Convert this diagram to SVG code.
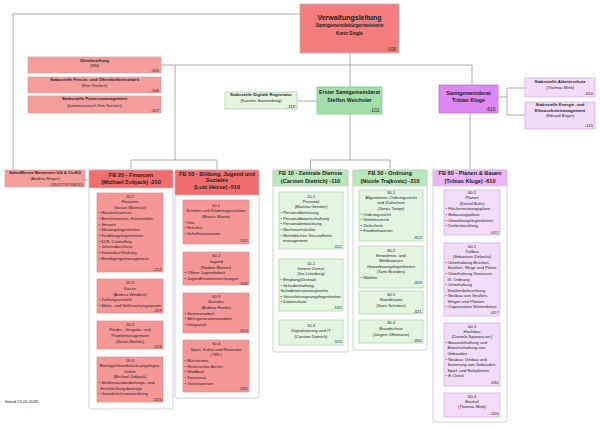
<svg xmlns="http://www.w3.org/2000/svg" width="600" height="429" viewBox="0 0 600 429">
<style>
text{font-family:"Liberation Sans",Arial,sans-serif;fill:#222}
.t{font-size:4.2px}
.b{font-weight:bold}
.m{text-anchor:middle}
.e{text-anchor:end}
.hd{font-size:5.6px;font-weight:bold;text-anchor:middle}
.con{fill:#fcfcfc;stroke:#c8c8c8;stroke-width:0.8}
.r1{fill:#f57c7c;stroke:#b8b8b8;stroke-width:0.8}
.rs{fill:#f59d9d;stroke:#c9a0a0;stroke-width:0.6}
.rh{fill:#f26d6d;stroke:#c8c8c8;stroke-width:0.6}
.ri{fill:#f79696;stroke:#d08a8a;stroke-width:0.6}
.g1{fill:#a2dfaa;stroke:#7fc08b;stroke-width:0.7}
.gs{fill:#e5f3e1;stroke:#9cc99c;stroke-width:0.6}
.gh{fill:#b9e6bb;stroke:#c8c8c8;stroke-width:0.6}
.gi{fill:#e3f4e0;stroke:#9ccc9c;stroke-width:0.6}
.p1{fill:#dd88f3;stroke:#b570c8;stroke-width:0.7}
.ps{fill:#f2dbf8;stroke:#c9a3d6;stroke-width:0.6}
.ph{fill:#ecb5f8;stroke:#c8c8c8;stroke-width:0.6}
.pi{fill:#f2dcf8;stroke:#c9a3d6;stroke-width:0.6}
#connectors path{fill:none;stroke:#999;stroke-width:0.8}
</style>

<g id="connectors">
<path d="M300,14 H13 V170"/>
<path d="M161,65 H472 V85"/>
<path d="M350,53 V87"/>
<path d="M175,65 V160 M131,160 H217 M131,160 V170 M217,160 V170"/>
<path d="M350,114 V160 M310.5,160 H390 M310.5,160 V170 M390,160 V170"/>
<path d="M297,101 H317"/>
<path d="M470,113 V170"/>
<path d="M498,97 H507 M507,88 V115 M507,88 H525 M507,115 H525"/>
<path d="M85,180 H89"/>
</g>

<g id="verwaltungsleitung">
<rect class="r1" x="300" y="4" width="99" height="49"/>
<text class="m b" x="349.5" y="19.5" font-size="7">Verwaltungsleitung</text>
<text class="m b" x="349.5" y="26.7" font-size="4.6">Samtgemeindebürgermeisterin</text>
<text class="m b" x="349.5" y="34.5" font-size="4.6">Karin Single</text>
<text class="e" x="396" y="50.5" font-size="4.6">-100</text>
</g>

<g id="gleichstellung">
<rect class="rs" x="28" y="57" width="133" height="16"/>
<text class="t b m" x="94.5" y="61.5">Gleichstellung</text>
<text class="t m" x="94.5" y="66.5">(NN)</text>
<text class="t e" x="159" y="72">-105</text>
</g>
<g id="presse">
<rect class="rs" x="28" y="77" width="133" height="16"/>
<text class="t b m" x="94.5" y="80.8">Stabsstelle Presse- und Öffentlichkeitsarbeit</text>
<text class="t m" x="94.5" y="87.2">(Kim Teichert)</text>
<text class="t e" x="159" y="92">-106</text>
</g>
<g id="prozess">
<rect class="rs" x="28" y="96" width="133" height="17"/>
<text class="t b m" x="94.5" y="99.8">Stabsstelle Prozessmanagement</text>
<text class="t m" x="94.5" y="106.5">(kommissarisch Kim Teichert)</text>
<text class="t e" x="159" y="111.5">-107</text>
</g>

<g id="digitale-registratur">
<rect class="gs" x="225" y="92" width="72" height="17"/>
<text class="t b m" x="261" y="95.8">Stabsstelle Digitale Registratur</text>
<text class="t m" x="261" y="101.5">(Karsten Sonnenberg)</text>
<text class="t e" x="295" y="108">-119</text>
</g>

<g id="erster">
<rect class="g1" x="317" y="87" width="65" height="27"/>
<text class="m b" x="349.5" y="94" font-size="5.3">Erster Samtgemeinderat</text>
<text class="m b" x="349.5" y="101.5" font-size="5.3">Steffen Weichsler</text>
<text class="e" x="379.5" y="112" font-size="5">-102</text>
</g>

<g id="kluge">
<rect class="p1" x="439" y="85" width="59" height="28"/>
<text class="m b" x="468.5" y="95" font-size="5.3">Samtgemeinderat</text>
<text class="m b" x="468.5" y="102" font-size="5.3">Tobias Kluge</text>
<text class="e" x="495.5" y="111" font-size="5">-610</text>
</g>

<g id="arbeitsschutz">
<rect class="ps" x="525" y="78" width="70" height="19"/>
<text class="t b m" x="560" y="83.2">Stabsstelle Arbeitsschutz</text>
<text class="t m" x="560" y="88.8">(Thomas Mink)</text>
<text class="t e" x="593" y="94.8">-616</text>
</g>
<g id="energie">
<rect class="ps" x="525" y="102" width="70" height="27"/>
<text class="t b m" x="560" y="105.8">Stabsstelle Energie- und</text>
<text class="t b m" x="560" y="111.5">Klimaschutzmanagement</text>
<text class="t m" x="560" y="117.2">(Eduard Bayer)</text>
<text class="t e" x="593" y="126.5">-115</text>
</g>

<g id="schulmensa">
<rect class="rs" x="5" y="170" width="80" height="17"/>
<text class="t b m" x="45" y="173.8">SchulMensa Meinersen UG &amp; Co.KG</text>
<text class="t m" x="45" y="179.5">(Andrea Meyer)</text>
<text class="t e" x="83" y="185.5">(05372/9718010)</text>
</g>

<g id="fb20">
<rect class="con" x="89" y="170" width="84" height="239" rx="1.5"/>
<rect class="rh" x="89" y="170" width="84" height="18"/>
<text class="hd" x="131" y="176.8">FB 20 - Finanzen</text>
<text class="hd" x="131" y="183.8">(Michael Zobjack) -210</text>
</g>
<g id="fb20-1">
<rect class="ri" x="97" y="193" width="66" height="79"/>
<text class="t m" x="130" y="198.2">20.1</text>
<text class="t m" x="130" y="203.2">Finanzen</text>
<text class="t m" x="130" y="208.8">(Susan Wormsie)</text>
<text class="t" x="98.5" y="214.2">• Haushaltswesen</text>
<text class="t" x="98.5" y="219.8">• Berichtswesen, Kennzahlen</text>
<text class="t" x="98.5" y="225.5">• Steuern</text>
<text class="t" x="98.5" y="231.2">• Mietangelegenheiten</text>
<text class="t" x="98.5" y="236.8">• Kreditangelegenheiten</text>
<text class="t" x="98.5" y="242.5">• KLR, Controlling</text>
<text class="t" x="98.5" y="248.2">• Jahresabschluss</text>
<text class="t" x="98.5" y="253.8">• Finanzbuchhaltung</text>
<text class="t" x="98.5" y="259.5">• Beteiligungsmanagement</text>
<text class="t e" x="161.5" y="270.5">-212</text>
</g>
<g id="fb20-2">
<rect class="ri" x="97" y="279" width="66" height="34"/>
<text class="t m" x="130" y="284.2">20.2</text>
<text class="t m" x="130" y="289.5">Kasse</text>
<text class="t m" x="130" y="295.5">(Andrea Windrich)</text>
<text class="t" x="98.5" y="301.2">• Zahlungsverkehr</text>
<text class="t" x="98.5" y="306.5">• Mahn- und Vollstreckungswesen</text>
<text class="t e" x="161.5" y="311.5">-219</text>
</g>
<g id="fb20-3">
<rect class="ri" x="97" y="321" width="66" height="28"/>
<text class="t m" x="130" y="325.5">20.3</text>
<text class="t m" x="130" y="331.2">Förder-, Vergabe- und</text>
<text class="t m" x="130" y="336.8">Projektmanagement</text>
<text class="t m" x="130" y="342.5">(Sarah Bethke)</text>
<text class="t e" x="161.5" y="347.5">-224</text>
</g>
<g id="fb20-4">
<rect class="ri" x="97" y="357" width="66" height="45"/>
<text class="t m" x="130" y="361.5">20.4</text>
<text class="t m" x="130" y="367.2">Beiträge/Grundstücksangelegen-</text>
<text class="t m" x="130" y="372.5">heiten</text>
<text class="t m" x="130" y="378.2">(Michael Zobjack)</text>
<text class="t" x="98.5" y="383.8">• Straßenausbaubeiträge- und</text>
<text class="t" x="100.5" y="389.5">Erschließungsbeiträge</text>
<text class="t" x="98.5" y="395.2">• Grundstücksvermarktung</text>
<text class="t e" x="161.5" y="400.5">-215</text>
</g>

<g id="fb50">
<rect class="con" x="175" y="170" width="84" height="228" rx="1.5"/>
<rect class="rh" x="175" y="170" width="84" height="25"/>
<text class="hd" x="217" y="176">FB 50 - Bildung, Jugend und</text>
<text class="hd" x="217" y="182.3">Soziales</text>
<text class="hd" x="217" y="188.7">(Lutz Hesse) -510</text>
</g>
<g id="fb50-1">
<rect class="ri" x="183" y="200" width="66" height="44"/>
<text class="t m" x="216" y="206.5">50.1</text>
<text class="t m" x="216" y="212.2">Schulen und Kindertagesstätten</text>
<text class="t m" x="216" y="217.8">(Marius Maron)</text>
<text class="t" x="184.5" y="223.5">• Kita</text>
<text class="t" x="184.5" y="229.2">• Schulen</text>
<text class="t" x="184.5" y="234.8">• Schulhausmeister</text>
<text class="t e" x="247.5" y="241.5">-512</text>
</g>
<g id="fb50-2">
<rect class="ri" x="183" y="252" width="66" height="33"/>
<text class="t m" x="216" y="257.2">50.2</text>
<text class="t m" x="216" y="262.8">Jugend</text>
<text class="t m" x="216" y="268.5">(Nadine Blömer)</text>
<text class="t" x="184.5" y="274.2">• Offene Jugendarbeit</text>
<text class="t" x="184.5" y="279.8">• Jugendfreizeiteinrichtungen</text>
<text class="t e" x="247.5" y="284.5">-536</text>
</g>
<g id="fb50-3">
<rect class="ri" x="183" y="293" width="66" height="40"/>
<text class="t m" x="216" y="297.5">50.3</text>
<text class="t m" x="216" y="303.2">Soziales</text>
<text class="t m" x="216" y="308.8">(Andrea Hanke)</text>
<text class="t" x="184.5" y="314.5">• Seniorenarbeit</text>
<text class="t" x="184.5" y="320.2">• Mehrgenerationenarbeit</text>
<text class="t" x="184.5" y="325.8">• Integration</text>
<text class="t e" x="247.5" y="332">-514</text>
</g>
<g id="fb50-4">
<rect class="ri" x="183" y="340" width="66" height="52"/>
<text class="t m" x="216" y="344.8">50.4</text>
<text class="t m" x="216" y="350.5">Sport, Kultur und Ehrenamt</text>
<text class="t m" x="216" y="356.2">( NN )</text>
<text class="t" x="184.5" y="361.8">• Büchereien</text>
<text class="t" x="184.5" y="367.5">• Historisches Archiv</text>
<text class="t" x="184.5" y="373.2">• Waldbad</text>
<text class="t" x="184.5" y="378.8">• Tourismus</text>
<text class="t" x="184.5" y="384.5">• Vereinswesen</text>
<text class="t e" x="247.5" y="390">-520</text>
</g>

<g id="fb10">
<rect class="con" x="273" y="170" width="75" height="182" rx="1.5"/>
<rect class="gh" x="273" y="170" width="75" height="16"/>
<text class="hd" x="310.5" y="175.3">FB 10 - Zentrale Dienste</text>
<text class="hd" x="310.5" y="183">(Carsten Dietrich) -110</text>
</g>
<g id="fb10-1">
<rect class="gi" x="279" y="192" width="64" height="57"/>
<text class="t m" x="311" y="198.2">10.1</text>
<text class="t m" x="311" y="202.5">Personal</text>
<text class="t m" x="311" y="208.2">(Martina Genzler)</text>
<text class="t" x="280.5" y="214.2">• Personalbetreuung</text>
<text class="t" x="280.5" y="219.8">• Personalbewirtschaftung</text>
<text class="t" x="280.5" y="225.2">• Personalentwicklung</text>
<text class="t" x="280.5" y="230.8">• Nachwuchskräfte</text>
<text class="t" x="280.5" y="236.5">• Betriebliches Gesundheits-</text>
<text class="t" x="283" y="242.2">management</text>
<text class="t e" x="341.5" y="247.5">-112</text>
</g>
<g id="fb10-2">
<rect class="gi" x="279" y="259" width="64" height="52"/>
<text class="t m" x="311" y="264.8">10.2</text>
<text class="t m" x="311" y="269.8">Innerer Dienst</text>
<text class="t m" x="311" y="275.2">(Ina Lüneburg)</text>
<text class="t" x="280.5" y="280.8">• Empfang/Zentrale</text>
<text class="t" x="280.5" y="286.5">• Schadenhaftung,</text>
<text class="t" x="280.5" y="291.8">Schadenersatzansprüche</text>
<text class="t" x="280.5" y="297.5">• Versicherungsangelegenheiten</text>
<text class="t" x="280.5" y="303.2">• Datenschutz</text>
<text class="t e" x="341.5" y="309.2">-120</text>
</g>
<g id="fb10-3">
<rect class="gi" x="279" y="320" width="64" height="25"/>
<text class="t m" x="311" y="326.5">10.3</text>
<text class="t m" x="311" y="332.2">Digitalisierung und IT</text>
<text class="t m" x="311" y="337.5">(Carsten Dietrich)</text>
<text class="t e" x="341.5" y="343.2">-115</text>
</g>

<g id="fb30">
<rect class="con" x="353" y="170" width="74" height="180" rx="1.5"/>
<rect class="gh" x="353" y="170" width="74" height="16"/>
<text class="hd" x="390" y="175.3">FB 30 - Ordnung</text>
<text class="hd" x="390" y="183">(Nicole Trajkovic) -310</text>
</g>
<g id="fb30-1">
<rect class="gi" x="359" y="190" width="64" height="51"/>
<text class="t m" x="391" y="194.2">30.1</text>
<text class="t m" x="391" y="199.2">Allgemeines Ordnungsrecht</text>
<text class="t m" x="391" y="204.2">und Zivilschutz</text>
<text class="t m" x="391" y="209.8">(Jonas Tietge)</text>
<text class="t" x="360.5" y="215.5">• Ordnungsrecht</text>
<text class="t" x="360.5" y="220.8">• Verkehrsrecht</text>
<text class="t" x="360.5" y="226.5">• Zivilschutz</text>
<text class="t" x="360.5" y="232.2">• Friedhofswesen</text>
<text class="t e" x="421.5" y="239.2">-312</text>
</g>
<g id="fb30-2">
<rect class="gi" x="359" y="246" width="64" height="42"/>
<text class="t m" x="391" y="252.2">30.2</text>
<text class="t m" x="391" y="257.2">Einwohner- und</text>
<text class="t m" x="391" y="262.2">Meldewesen</text>
<text class="t m" x="391" y="267.5">Gewerbeangelegenheiten</text>
<text class="t m" x="391" y="273.2">(Tami Brandes)</text>
<text class="t" x="360.5" y="278.8">• Wahlen</text>
<text class="t e" x="421.5" y="284.2">-319</text>
</g>
<g id="fb30-3">
<rect class="gi" x="359" y="291" width="64" height="23"/>
<text class="t m" x="391" y="295.5">30.3</text>
<text class="t m" x="391" y="300.8">Standesamt</text>
<text class="t m" x="391" y="306.5">(Sven Schröter)</text>
<text class="t e" x="421.5" y="313.2">-321</text>
</g>
<g id="fb30-4">
<rect class="gi" x="359" y="320" width="64" height="23"/>
<text class="t m" x="391" y="324.2">30.4</text>
<text class="t m" x="391" y="329.8">Brandschutz</text>
<text class="t m" x="391" y="335.5">(Jürgen Offermann)</text>
<text class="t e" x="421.5" y="341.8">-330</text>
</g>

<g id="fb60">
<rect class="con" x="433" y="170" width="74" height="252" rx="1.5"/>
<rect class="ph" x="433" y="170" width="74" height="16"/>
<text class="hd" x="470" y="175.3">FB 60 - Planen &amp; Bauen</text>
<text class="hd" x="470" y="183">(Tobias Kluge) -610</text>
</g>
<g id="fb60-1">
<rect class="pi" x="444" y="190" width="56" height="45"/>
<text class="t m" x="472" y="194.2">60.1</text>
<text class="t m" x="472" y="199.2">Planen</text>
<text class="t m" x="472" y="204.8">(Daniel Buhr)</text>
<text class="t" x="445.5" y="210.2">• Flächennutzungspläne</text>
<text class="t" x="445.5" y="215.8">• Bebauungspläne</text>
<text class="t" x="445.5" y="221.5">• Umweltangelegenheiten</text>
<text class="t" x="445.5" y="227.2">• Dorfentwicklung</text>
<text class="t e" x="498.5" y="234.2">-612</text>
</g>
<g id="fb60-2">
<rect class="pi" x="444" y="243" width="56" height="73"/>
<text class="t m" x="472" y="247.5">60.2</text>
<text class="t m" x="472" y="252.5">Tiefbau</text>
<text class="t m" x="472" y="258.2">(Sebastian Zielonka)</text>
<text class="t" x="445.5" y="263.8">• Unterhaltung Brücken,</text>
<text class="t" x="447.5" y="269.2">Straßen, Wege und Plätze</text>
<text class="t" x="445.5" y="274.8">• Unterhaltung Gewässer</text>
<text class="t" x="447.5" y="280.5">III. Ordnung</text>
<text class="t" x="445.5" y="285.8">• Unterhaltung</text>
<text class="t" x="447.5" y="291.5">Straßenbeleuchtung</text>
<text class="t" x="445.5" y="297.2">• Neubau von Straßen,</text>
<text class="t" x="447.5" y="302.5">Wegen und Plätzen</text>
<text class="t" x="445.5" y="308.2">• Organisation Winterdienst</text>
<text class="t e" x="498.5" y="314.2">-617</text>
</g>
<g id="fb60-3">
<rect class="pi" x="444" y="323" width="56" height="63"/>
<text class="t m" x="472" y="327.5">60.3</text>
<text class="t m" x="472" y="332.5">Hochbau</text>
<text class="t m" x="472" y="338.2">(Daniela Sparwasser)</text>
<text class="t" x="445.5" y="343.8">• Bauunterhaltung und</text>
<text class="t" x="447.5" y="349.2">Bewirtschaftung von</text>
<text class="t" x="447.5" y="354.8">Gebäuden</text>
<text class="t" x="445.5" y="360.5">• Neubau, Umbau und</text>
<text class="t" x="447.5" y="365.8">Sanierung von Gebäuden,</text>
<text class="t" x="447.5" y="371.5">Spiel- und Bolzplätzen</text>
<text class="t" x="445.5" y="377.2">• E-Check</text>
<text class="t e" x="498.5" y="384.2">-630</text>
</g>
<g id="fb60-4">
<rect class="pi" x="444" y="393" width="56" height="24"/>
<text class="t m" x="472" y="397.5">60.4</text>
<text class="t m" x="472" y="402.5">Bauhof</text>
<text class="t m" x="472" y="408.2">(Thomas Mink)</text>
<text class="t e" x="498.5" y="414.8">-616</text>
</g>

<text class="t" x="5" y="402.5" fill="#333">Stand 15.06.2026</text>
</svg>
